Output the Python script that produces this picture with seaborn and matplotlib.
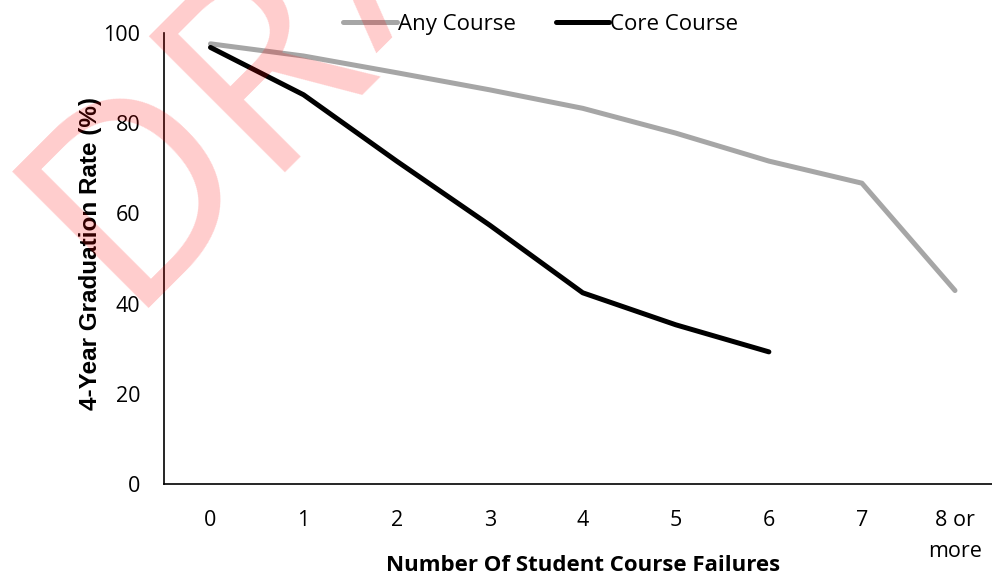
import numpy as np
import pandas as pd
import seaborn as sns
import matplotlib.pyplot as plt


categories = ["0", "1", "2", "3", "4", "5", "6", "7", "8 or\nmore"]
any_course = [97.6, 94.9, 91.2, 87.4, 83.3, 77.8, 71.6, 66.7, 42.9]
core_course = [96.8, 86.3, 71.6, 57.4, 42.4, 35.3, 29.3]
series_names = ["Any Course", "Core Course"]
series_colors = ["#a6a6a6", "#000000"]
y_ticks = [0, 20, 40, 60, 80, 100]


df = pd.concat([
    pd.DataFrame({"failures": categories, "rate": any_course, "series": series_names[0]}),
    pd.DataFrame({"failures": categories[:len(core_course)], "rate": core_course, "series": series_names[1]}),
])

sns.set_style("white")
plt.rcParams["font.family"] = ["Open Sans", "DejaVu Sans"]
plt.rcParams["text.color"] = "black"
plt.rcParams["xtick.color"] = "black"
plt.rcParams["ytick.color"] = "black"
plt.rcParams["axes.labelcolor"] = "black"

fig = plt.figure(figsize=(9.92, 5.78), dpi=100)
ax = fig.add_axes([0.1653, 0.1626, 0.8443, 0.7803])

sns.lineplot(data=df, x="failures", y="rate", hue="series", hue_order=series_names,
             palette=series_colors, linewidth=3.6, sort=False, ax=ax)
for line in ax.get_lines():
    line.set_solid_capstyle("round")
    line.set_solid_joinstyle("round")

ax.set_xlim(-0.5, len(categories) - 0.5)
ax.set_ylim(0, 100)
ax.set_yticks(y_ticks)
ax.tick_params(axis="y", length=0, pad=17, labelsize=15.5)
ax.tick_params(axis="x", length=0, pad=19, labelsize=15.5)
for lbl in ax.get_xticklabels():
    lbl.set_linespacing(1.6)

sns.despine(ax=ax)
for s in ["left", "bottom"]:
    ax.spines[s].set_color("black")
    ax.spines[s].set_linewidth(1.2)

ax.set_xlabel("Number Of Student Course Failures", fontsize=16, fontweight="bold")
ax.set_ylabel("4-Year Graduation Rate (%)", fontsize=17.5, fontweight="bold",
              family="Liberation Sans")
ax.xaxis.set_label_coords(0.5, -0.18)
ax.xaxis.label.set_va("center")
ax.yaxis.set_label_coords(-0.088, 0.512)
ax.yaxis.label.set_va("center")

ax.legend(loc="center", ncol=2, frameon=False, fontsize=16, handlelength=2.4,
          handletextpad=0.05, columnspacing=1.8)
ax.get_legend().set_bbox_to_anchor((0.545, 0.958), transform=fig.transFigure)

# DRAFT watermark, letters set along a 45 degree baseline (pixel offsets along it)
letters = ["D", "R", "A", "F", "T"]
offsets = [-115, 78, 246, 436, 570]
for ch, s in zip(letters, offsets):
    px = (457 + s * np.sqrt(2)) / 2 - 25
    py = (457 - s * np.sqrt(2)) / 2 - 2
    fig.text(px / 992, 1 - py / 578, ch, fontsize=194, color="red", alpha=0.2,
             rotation=45, rotation_mode="anchor", ha="left", va="baseline", zorder=10)

fig.savefig("out.png", dpi=100)
